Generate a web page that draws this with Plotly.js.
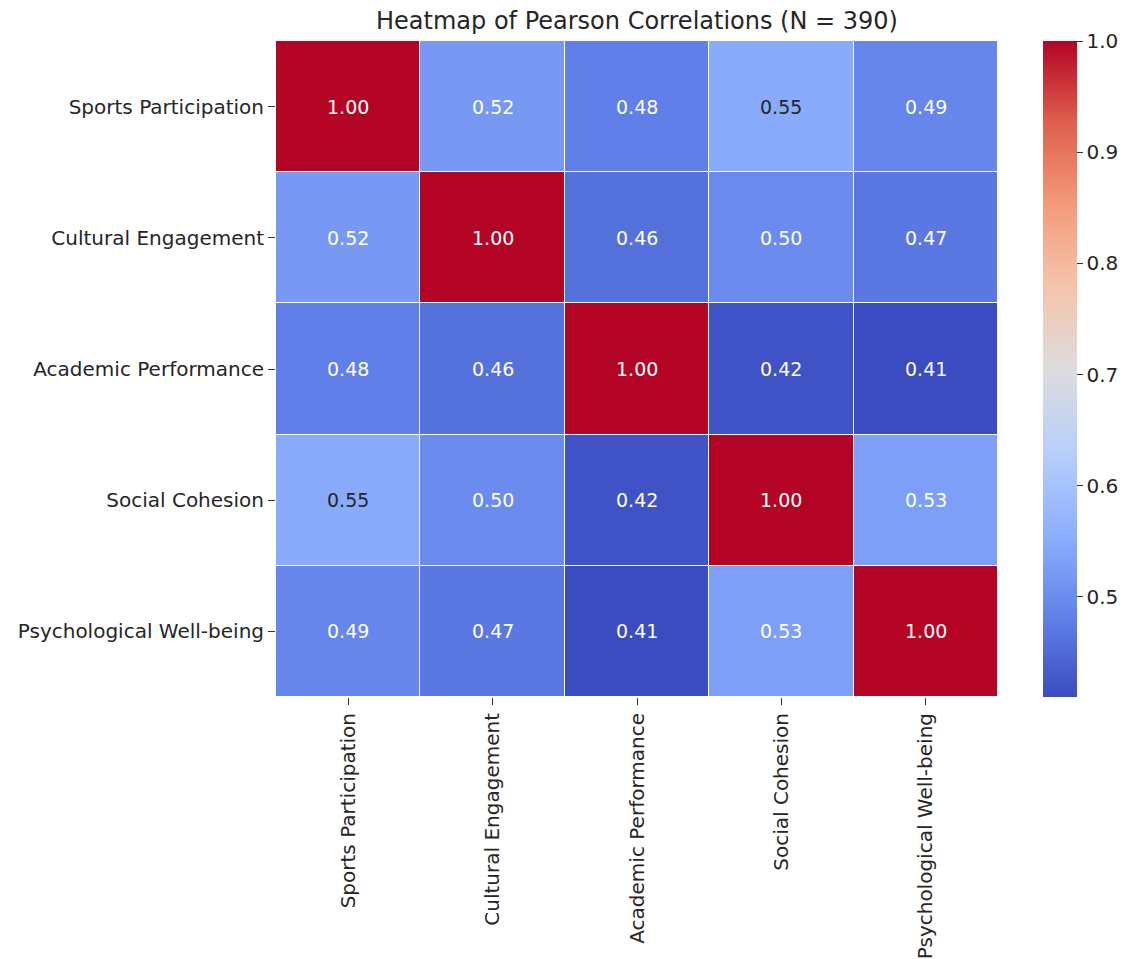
<!DOCTYPE html>
<html>
<head>
<meta charset="utf-8">
<script src="https://cdn.plot.ly/plotly-3.0.1.min.js"></script>
<style>html,body{margin:0;padding:0;background:#fff;}#chart{width:1126px;height:959px;}</style>
</head>
<body>
<div id="chart"></div>
<script>
const variables = ["Sports Participation","Cultural Engagement","Academic Performance","Social Cohesion","Psychological Well-being"];
const row0 = [1.00, 0.52, 0.48, 0.55, 0.49];
const row1 = [0.52, 1.00, 0.46, 0.50, 0.47];
const row2 = [0.48, 0.46, 1.00, 0.42, 0.41];
const row3 = [0.55, 0.50, 0.42, 1.00, 0.53];
const row4 = [0.49, 0.47, 0.41, 0.53, 1.00];
const matrix = [row0, row1, row2, row3, row4];
const colorTicks = [0.5, 0.6, 0.7, 0.8, 0.9, 1.0];

const coolwarm = [
  [0.0, "rgb(59,76,192)"],
  [0.125, "rgb(98,130,234)"],
  [0.25, "rgb(141,176,254)"],
  [0.375, "rgb(184,208,249)"],
  [0.5, "rgb(221,220,220)"],
  [0.625, "rgb(245,196,172)"],
  [0.75, "rgb(244,154,123)"],
  [0.875, "rgb(222,96,77)"],
  [1.0, "rgb(180,4,38)"]
];
const zmin = 0.41, zmax = 1.0;

const annotations = [];
matrix.forEach((row, i) => {
  row.forEach((v, j) => {
    const frac = (v - zmin) / (zmax - zmin);
    const light = frac > 0.22 && frac < 0.75;
    annotations.push({
      x: variables[j], y: variables[i], xref: "x", yref: "y",
      text: v.toFixed(2), showarrow: false,
      font: {family: "DejaVu Sans", size: 19, color: light ? "#262626" : "#ffffff"}
    });
  });
});

const trace = {
  type: "heatmap",
  x: variables, y: variables, z: matrix,
  colorscale: coolwarm, zmin: zmin, zmax: zmax,
  xgap: 1, ygap: 1,
  hoverongaps: false,
  colorbar: {
    x: 1.0623, xanchor: "left", xref: "paper", xpad: 0, ypad: 0,
    y: 0, yanchor: "bottom", len: 1, lenmode: "fraction",
    thickness: 34, outlinewidth: 0,
    tickvals: colorTicks, ticktext: colorTicks.map(t => t.toFixed(1)),
    ticks: "outside", ticklen: 6, tickcolor: "#333",
    tickfont: {family: "DejaVu Sans", size: 20, color: "#262626"}
  }
};

const layout = {
  width: 1126, height: 959,
  margin: {l: 276, r: 128, t: 41, b: 262, autoexpand: false},
  paper_bgcolor: "#fff", plot_bgcolor: "#fff",
  title: {text: "Heatmap of Pearson Correlations (N = 390)", x: 0.5, xref: "paper", xanchor: "center", y: 0.979, yanchor: "middle",
          font: {family: "DejaVu Sans", size: 24, color: "#262626"}},
  xaxis: {type: "category", tickangle: -90, ticks: "outside", ticklen: 7, tickcolor: "#333",
          tickfont: {family: "DejaVu Sans", size: 20, color: "#262626"}, showgrid: false, zeroline: false, showline: false},
  yaxis: {type: "category", autorange: "reversed", ticks: "outside", ticklen: 7, tickcolor: "#333",
          tickfont: {family: "DejaVu Sans", size: 20, color: "#262626"}, showgrid: false, zeroline: false, showline: false},
  annotations: annotations
};

Plotly.newPlot("chart", [trace], layout, {displayModeBar: false});
</script>
</body>
</html>
